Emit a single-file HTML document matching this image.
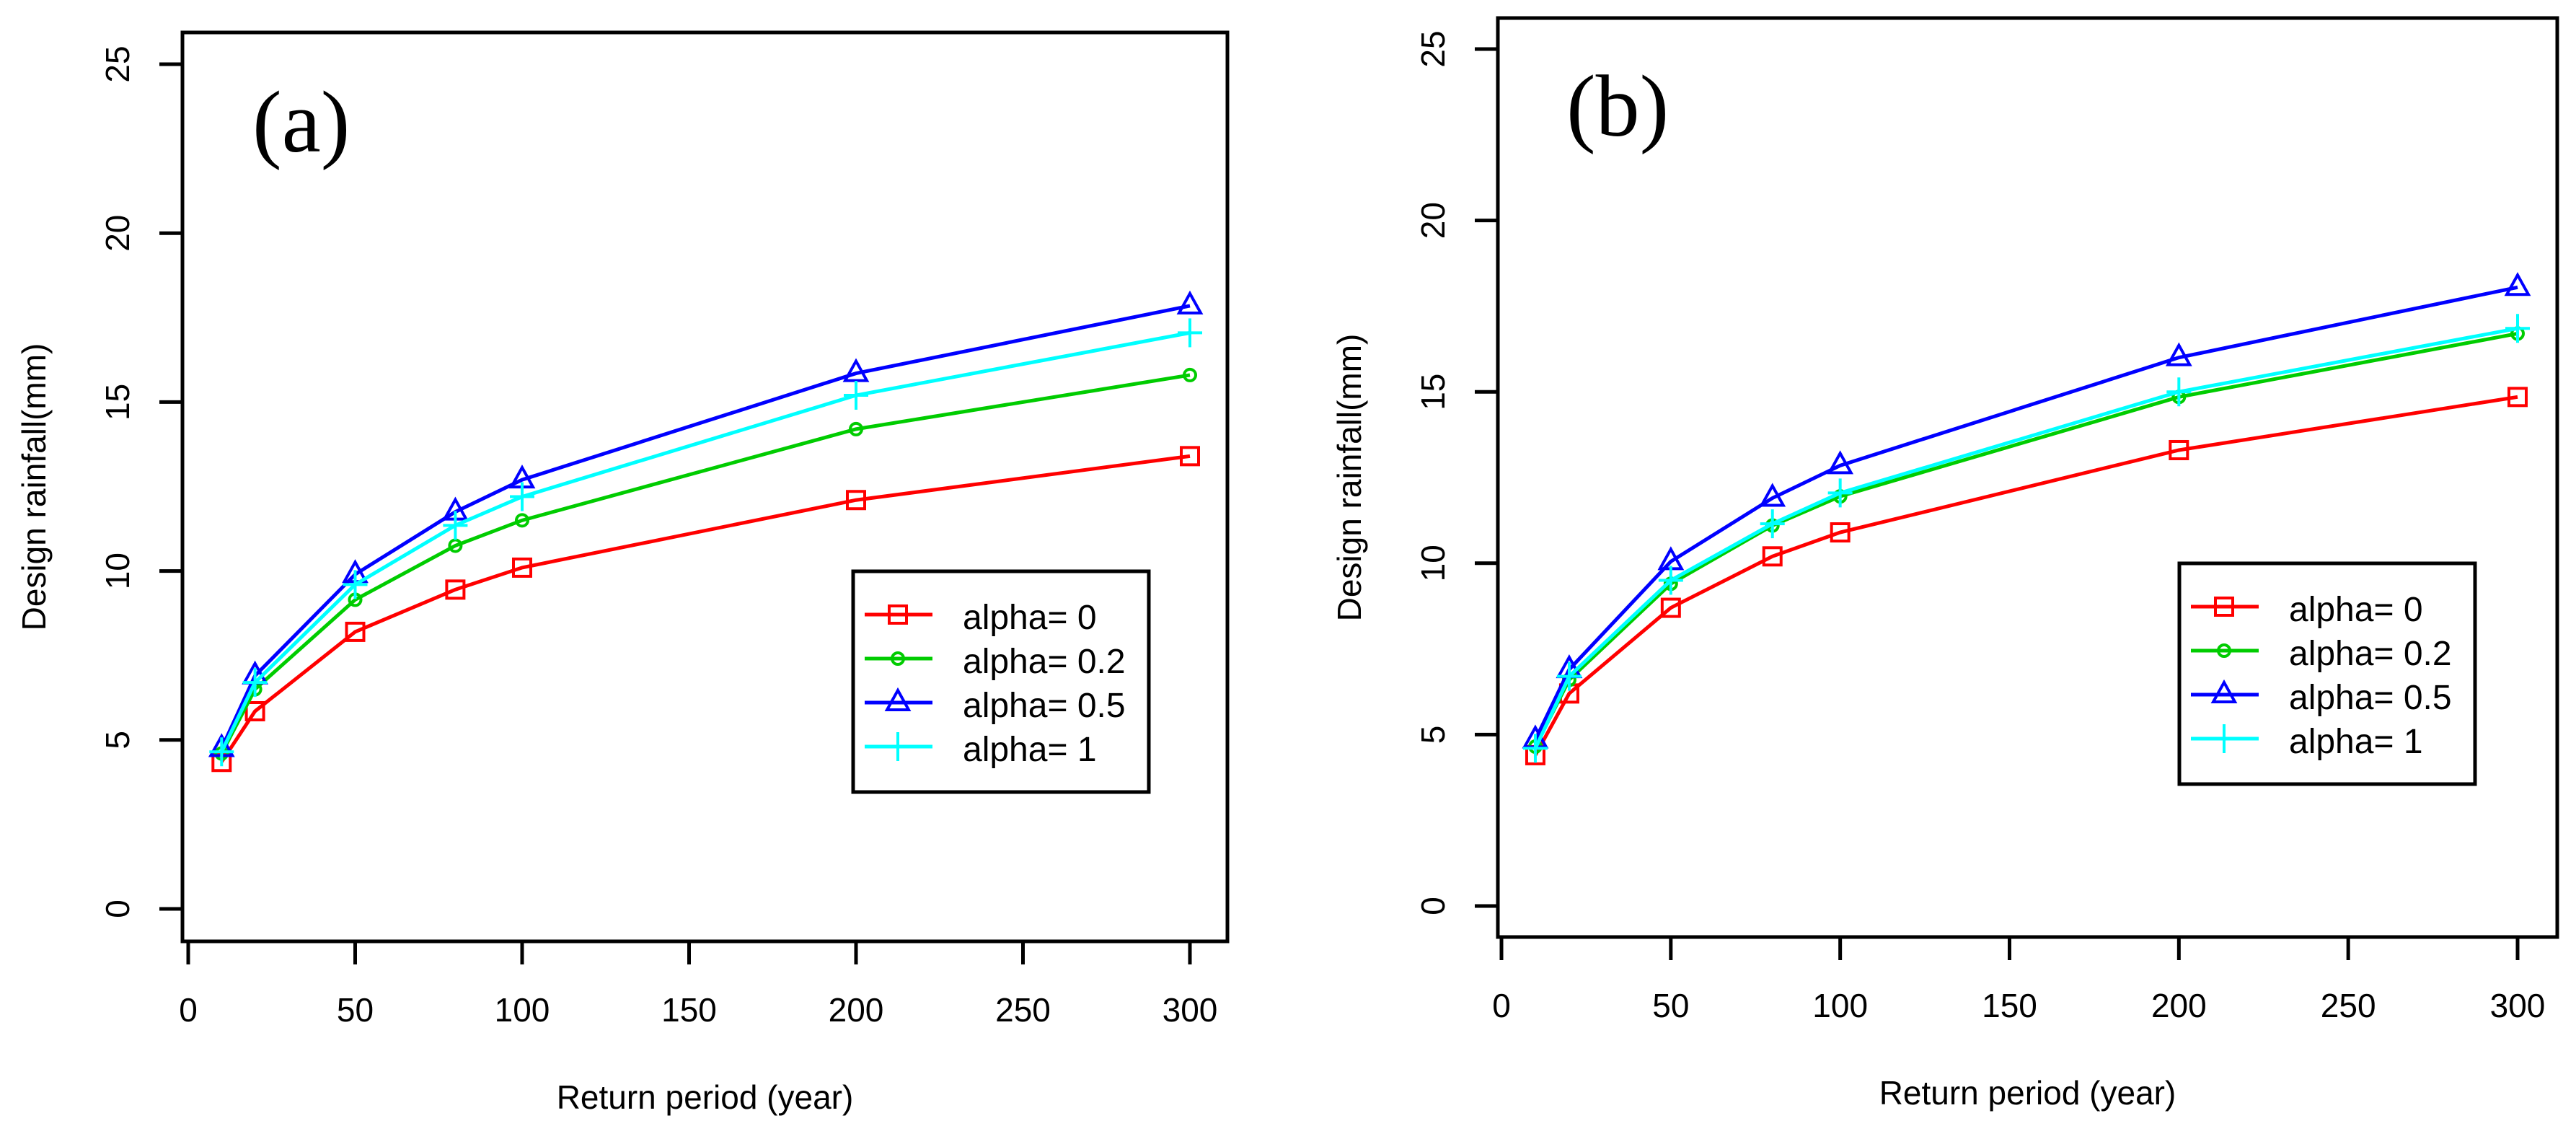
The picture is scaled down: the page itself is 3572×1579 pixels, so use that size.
<!DOCTYPE html>
<html><head><meta charset="utf-8"><style>
html,body{margin:0;padding:0;background:#fff;width:3572px;height:1579px;overflow:hidden}
text{font-family:"Liberation Sans",sans-serif}
text.serif{font-family:"Liberation Serif",serif}
</style></head><body>
<svg id="chart" width="3572" height="1579" xmlns="http://www.w3.org/2000/svg"></svg>
<script>
const periods=[10,20,50,80,100,200,300];
const seriesLabels=["alpha= 0","alpha= 0.2","alpha= 0.5","alpha= 1"];
const aRed=[4.35,5.85,8.2,9.45,10.1,12.1,13.4];
const aGreen=[4.6,6.5,9.15,10.75,11.5,14.2,15.8];
const aBlue=[4.75,6.9,9.9,11.75,12.7,15.85,17.85];
const aCyan=[4.65,6.7,9.6,11.35,12.2,15.2,17.05];
const bRed=[4.4,6.2,8.7,10.2,10.9,13.3,14.85];
const bGreen=[4.65,6.6,9.4,11.1,11.95,14.85,16.7];
const bBlue=[4.85,6.9,10.05,11.9,12.85,16.0,18.05];
const bCyan=[4.6,6.7,9.5,11.15,12.05,15.0,16.85];
const xTicks=[0,50,100,150,200,250,300];
const yTicks=[0,5,10,15,20,25];

const NS="http://www.w3.org/2000/svg";
const svg=document.getElementById('chart');
function mk(tag,attrs,parent){const e=document.createElementNS(NS,tag);for(const k in attrs)e.setAttribute(k,attrs[k]);(parent||svg).appendChild(e);return e;}
const colors=["#ff0000","#00cc00","#0000ff","#00ffff"];
const shapes=["square","circle","triangle","plus"];

function marker(g,shape,cx,cy,col){
  let m;
  if(shape==="square"){m=mk('rect',{x:cx-12,y:cy-12,width:24,height:24,fill:'none',stroke:col,'stroke-width':4},g);}
  else if(shape==="circle"){m=mk('circle',{cx:cx,cy:cy,r:8,fill:'none',stroke:col,'stroke-width':4},g);}
  else if(shape==="triangle"){m=mk('polygon',{points:`${cx},${cy-17} ${cx-15},${cy+10} ${cx+15},${cy+10}`,fill:'none',stroke:col,'stroke-width':4},g);}
  else {m=mk('path',{d:`M${cx-17},${cy}H${cx+17}M${cx},${cy-20}V${cy+20}`,fill:'none',stroke:col,'stroke-width':4},g);}
  
  
}

function panel(id,cfg,series){
  const g=mk('g',{});
  
  
  const X=v=>cfg.x0+(v-0)*(cfg.x300-cfg.x0)/300;
  const Y=v=>cfg.y0-(v)*(cfg.y0-cfg.y25)/25;
  const box=mk('rect',{x:cfg.bl,y:cfg.bt,width:cfg.br-cfg.bl,height:cfg.bb-cfg.bt,fill:'none',stroke:'#000','stroke-width':5},g);
  
  
  xTicks.forEach(t=>{
    const l=mk('line',{x1:X(t),x2:X(t),y1:cfg.bb,y2:cfg.bb+32,stroke:'#000','stroke-width':5},g);
    
    
    const tx=mk('text',{x:X(t),y:cfg.bb+111,'font-size':46,'text-anchor':'middle'},g);tx.textContent=t;
    
    
  });
  const xa=mk('line',{x1:X(0),x2:X(300),y1:cfg.bb,y2:cfg.bb,stroke:'#000','stroke-width':5},g);
  
  
  yTicks.forEach(t=>{
    const l=mk('line',{x1:cfg.bl-32,x2:cfg.bl,y1:Y(t),y2:Y(t),stroke:'#000','stroke-width':5},g);
    
    
    const tx=mk('text',{x:cfg.bl-74,y:Y(t),'font-size':46,'text-anchor':'middle',transform:`rotate(-90 ${cfg.bl-74} ${Y(t)})`},g);tx.textContent=t;
    
    
  });
  const xt=mk('text',{x:(cfg.bl+cfg.br)/2,y:cfg.bb+232,'font-size':46,'text-anchor':'middle'},g);xt.textContent='Return period (year)';
  
  
  const ytx=cfg.bl-190, yty=(cfg.bt+cfg.bb)/2;
  const yt=mk('text',{x:ytx,y:yty,'font-size':46,'text-anchor':'middle',transform:`rotate(-90 ${ytx} ${yty})`},g);yt.textContent='Design rainfall(mm)';
  
  
  const lab=mk('text',{x:cfg.lx,y:cfg.ly,'font-size':122,'class':'serif',style:'font-family:"Liberation Serif",serif'},g);lab.textContent=cfg.label;
  
  
  series.forEach((vals,i)=>{
    const sg=mk('g',{},g);
    
    
    const pts=vals.map((v,j)=>X(periods[j])+','+Y(v)).join(' ');
    const pl=mk('polyline',{points:pts,fill:'none',stroke:colors[i],'stroke-width':5},sg);
    
    
    vals.forEach((v,j)=>marker(sg,shapes[i],X(periods[j]),Y(v),colors[i]));
  });
  const lg=mk('g',{},g);
  
  
  const lb=mk('rect',{x:cfg.lgx,y:cfg.lgy,width:410,height:306,fill:'#fff',stroke:'#000','stroke-width':5},lg);
  
  
  seriesLabels.forEach((s,i)=>{
    const cy=cfg.lgy+60+i*61;
    const e=mk('g',{},lg);
    
    
    mk('line',{x1:cfg.lgx+16,x2:cfg.lgx+110,y1:cy,y2:cy,stroke:colors[i],'stroke-width':5},e);
    marker(e,shapes[i],cfg.lgx+62,cy,colors[i]);
    const t=mk('text',{x:cfg.lgx+152,y:cy+20,'font-size':48},e);t.textContent=s;
  });
}
panel('a',{x0:261,x300:1650,y0:1260,y25:89,bl:253,br:1702,bt:45,bb:1305,lx:350,ly:210,label:'(a)',lgx:1183,lgy:792},[aRed,aGreen,aBlue,aCyan]);
panel('b',{x0:2082,x300:3491,y0:1256,y25:68,bl:2077,br:3546,bt:25,bb:1299,lx:2172,ly:188,label:'(b)',lgx:3022,lgy:781},[bRed,bGreen,bBlue,bCyan]);
</script>
</body></html>
